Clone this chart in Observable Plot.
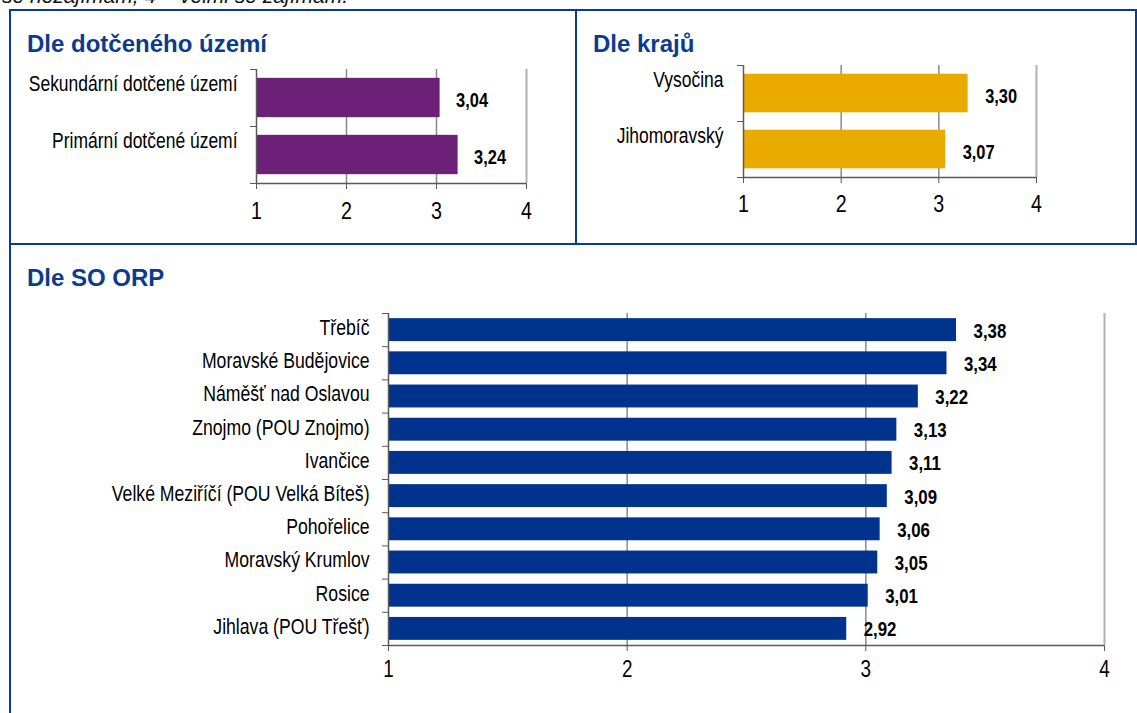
<!DOCTYPE html>
<html><head><meta charset="utf-8">
<script src="https://cdn.jsdelivr.net/npm/d3@7"></script>
<script src="https://cdn.jsdelivr.net/npm/@observablehq/plot@0.6"></script>
<style>
html,body{margin:0;padding:0;background:#fff;}
body{width:1137px;height:713px;overflow:hidden;position:relative;}
.ln{position:absolute;background:#0b3b8f;}
.title{position:absolute;font:bold 24px "Liberation Sans",Arial,sans-serif;color:#0b3b8f;line-height:24px;white-space:nowrap;}
.chart{position:absolute;}
.note{position:absolute;font:italic 21px "Liberation Sans",Arial,sans-serif;line-height:21px;white-space:nowrap;color:#111;}
.chart svg [aria-label^="x-axis"], .chart svg [aria-label^="y-axis"]{color:#5a5a5a;}
.chart svg [aria-label^="x-axis"] text{fill:#000;}
</style></head>
<body>
<div class="note" style="left:2px;top:-15px;">se nezajímám, 4 = velmi se zajímám.</div>
<div class="ln" style="left:9px;top:9px;width:1128px;height:2px;"></div>
<div class="ln" style="left:9px;top:9px;width:2px;height:704px;"></div>
<div class="ln" style="left:575px;top:9px;width:2px;height:236px;"></div>
<div class="ln" style="left:1135px;top:9px;width:2px;height:236px;"></div>
<div class="ln" style="left:9px;top:243px;width:1128px;height:2px;"></div>
<div class="title" style="left:27px;top:32px;">Dle dotčeného území</div>
<div class="title" style="left:593px;top:32px;">Dle krajů</div>
<div class="title" style="left:27px;top:266px;">Dle SO ORP</div>
<div class="chart" id="c1" style="left:12px;top:12px;"></div>
<div class="chart" id="c2" style="left:578px;top:12px;"></div>
<div class="chart" id="c3" style="left:12px;top:247px;"></div>
<script>
// ---- data ----
const territoryCats = ["Sekundární dotčené území", "Primární dotčené území"];
const territoryVals = [3.04, 3.24];
const regionCats = ["Vysočina", "Jihomoravský"];
const regionVals = [3.30, 3.07];
const orpCats = ["Třebíč", "Moravské Budějovice", "Náměšť nad Oslavou", "Znojmo (POU Znojmo)", "Ivančice",
  "Velké Meziříčí (POU Velká Bíteš)", "Pohořelice", "Moravský Krumlov", "Rosice", "Jihlava (POU Třešť)"];
const orpVals = [3.38, 3.34, 3.22, 3.13, 3.11, 3.09, 3.06, 3.05, 3.01, 2.92];
const xTicks = [1, 2, 3, 4];

function hasFont(name) {
  const c = document.createElement("canvas").getContext("2d");
  const s = "abcdefghijklmnopqrstuvwxyz ABCDEFGH 0123456789";
  c.font = "40px monospace"; const a = c.measureText(s).width;
  c.font = `40px '${name}', monospace`; const b = c.measureText(s).width;
  return Math.abs(a - b) > 1;
}
const NARROW = hasFont("Liberation Sans Narrow");
const FAM = NARROW ? "'Liberation Sans Narrow', 'Arial Narrow', sans-serif" : "'Liberation Sans', Arial, sans-serif";
const SQUEEZE = NARROW ? 1 : 0.82; // condensed look of the original chart text
const fmt = v => v.toFixed(2).replace(".", ",");

function condense(svg, f) {
  if (f === 1) return;
  svg.querySelectorAll("text").forEach(t => {
    const w = t.getComputedTextLength();
    if (w > 0) {
      t.setAttribute("textLength", w * f);
      t.setAttribute("lengthAdjust", "spacingAndGlyphs");
    }
  });
}

function barPanel(o) {
  const n = o.cats.length;
  const data = o.cats.map((c, i) => ({c, v: o.vals[i], i}));
  const pad = 0.155;
  return Plot.plot({
    width: o.width, height: o.height,
    marginLeft: o.mL, marginRight: o.mR, marginTop: o.mT, marginBottom: o.mB,
    style: {fontFamily: FAM, fontSize: o.tickFont + "px", color: "#000", background: "transparent", overflow: "visible"},
    x: {domain: [1, 4], ticks: xTicks, tickSize: 6, tickPadding: o.tickPad, tickFormat: d => String(d), label: null},
    y: {domain: [0, n], reverse: true, ticks: d3.range(n + 1), tickSize: 6, tickFormat: () => "", label: null},
    marks: [
      Plot.ruleX([2, 3], {stroke: "#8a8a8a", strokeWidth: 1.5}),
      Plot.ruleX([4], {stroke: "#b0b0b0", strokeWidth: 2}),
      Plot.rect(data, {x1: 1, x2: "v", y1: d => d.i + pad, y2: d => d.i + 1 - pad, fill: o.color}),
      Plot.ruleX([1], {stroke: "#5a5a5a", strokeWidth: 1.5}),
      Plot.ruleY([n], {stroke: "#5a5a5a", strokeWidth: 1.5}),
      Plot.text(data, {x: 1, y: d => d.i + 0.5, text: "c", textAnchor: "end", dx: o.labDx, dy: o.labDy,
        fontSize: o.labFont, fill: "#000"}),
      Plot.text(data, {x: "v", y: d => d.i + 0.5, text: d => fmt(d.v), textAnchor: "start", dx: o.valDx, dy: o.valDy,
        fontSize: o.valFont, fontWeight: "bold", fill: "#000"})
    ]
  });
}

function mount(id, opts) {
  const svg = barPanel(opts);
  document.getElementById(id).append(svg);
  condense(svg, SQUEEZE);
}

mount("c1", {
  cats: territoryCats, vals: territoryVals, color: "#6d2077",
  width: 560, height: 220, mL: 244, mR: 46, mT: 57, mB: 49,
  labDx: -19, labDy: -14, valDx: 16, valDy: 3, labFont: 21.3, valFont: 20, tickFont: 24, tickPad: 12
});
mount("c2", {
  cats: regionCats, vals: regionVals, color: "#e9ab00",
  width: 557, height: 214, mL: 165, mR: 99, mT: 53, mB: 49,
  labDx: -20, labDy: -13, valDx: 17, valDy: 3, labFont: 21.3, valFont: 20, tickFont: 24, tickPad: 11
});
mount("c3", {
  cats: orpCats, vals: orpVals, color: "#00338d",
  width: 1120, height: 448, mL: 376, mR: 28, mT: 66, mB: 50,
  labDx: -19, labDy: -2, valDx: 17, valDy: 1, labFont: 21.5, valFont: 20.5, tickFont: 23, tickPad: 9
});
</script>
</body></html>
